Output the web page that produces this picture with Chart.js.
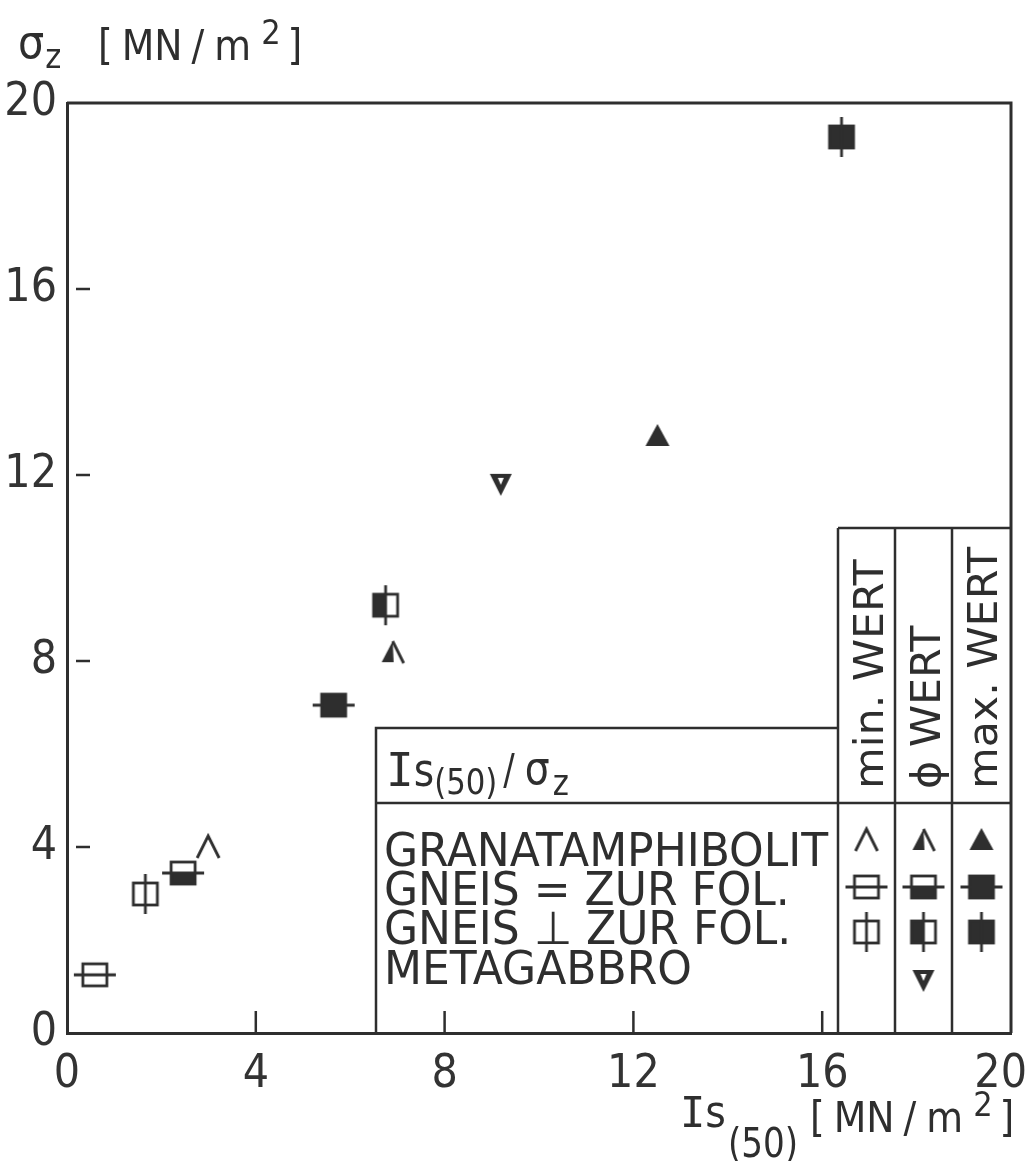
<!DOCTYPE html>
<html>
<head>
<meta charset="utf-8">
<script src="https://cdn.jsdelivr.net/npm/chart.js@4.4.1/dist/chart.umd.min.js"></script>
<style>
  body { margin: 0; background: #fff; }
  #wrap { width: 1029px; height: 1161px; }
</style>
</head>
<body>
<div id="wrap"><canvas id="chart" width="1029" height="1161"></canvas></div>
<script>
// values: [min, mean, max] per rock type
const granatX = [2.99, 6.90, 12.51];
const granatY = [4.00, 8.19, 12.84];
const gneisParX = [0.59, 2.46, 5.65];
const gneisParY = [1.25, 3.44, 7.05];
const gneisPerpX = [1.66, 6.75, 16.41];
const gneisPerpY = [2.99, 9.20, 19.27];
const gabbroX = [9.19];
const gabbroY = [11.81];

const rockNames = ['GRANATAMPHIBOLIT', 'GNEIS = ZUR FOL.', 'GNEIS \u22A5 ZUR FOL.', 'METAGABBRO'];
const statNames = ['min. WERT', '\u03D5 WERT', 'max. WERT'];
const axisTicks = [0, 4, 8, 12, 16, 20];

const FONT = '"Liberation Sans Narrow", "DejaVu Sans Condensed", "Liberation Sans", sans-serif';
const MONO = '"DejaVu Sans Mono", monospace';
const INK = '#2e2e2e';

// marker pictures used as point styles
function makeMarker(draw) {
    const c = document.createElement('canvas');
    c.width = 50; c.height = 50;
    const g = c.getContext('2d');
    g.translate(25, 25);
    g.strokeStyle = INK;
    g.fillStyle = INK;
    g.lineWidth = 2.8;
    draw(g);
    return c;
}

const caretOpen = makeMarker(g => {
    g.beginPath(); g.moveTo(-11, 11); g.lineTo(0, -11); g.lineTo(11, 11); g.stroke();
});
const caretHalf = makeMarker(g => {
    g.beginPath(); g.moveTo(0, -11); g.lineTo(-11, 10); g.lineTo(1, 10); g.closePath(); g.fill();
    g.beginPath(); g.moveTo(0, -11); g.lineTo(11, 11); g.stroke();
});
const triFull = makeMarker(g => {
    g.beginPath(); g.moveTo(0, -12); g.lineTo(-12, 10); g.lineTo(12, 10); g.closePath(); g.fill();
});
const triDown = makeMarker(g => {
    g.beginPath(); g.moveTo(-11, -10); g.lineTo(11, -10); g.lineTo(0, 12); g.closePath(); g.fill();
    g.fillStyle = '#fff';
    g.beginPath(); g.moveTo(-3, -6); g.lineTo(3, -6); g.lineTo(0, 1); g.closePath(); g.fill();
});
function squareH(fill) {
    return makeMarker(g => {
        if (fill === 1) g.fillRect(-12, 0, 24, 11);
        if (fill === 2) g.fillRect(-12, -11, 24, 22);
        g.strokeRect(-12, -11, 24, 22);
        g.beginPath(); g.moveTo(-21, 0); g.lineTo(21, 0); g.stroke();
    });
}
function squareV(fill) {
    return makeMarker(g => {
        if (fill === 1) g.fillRect(-12, -11, 12, 22);
        if (fill === 2) g.fillRect(-12, -11, 24, 22);
        g.strokeRect(-12, -11, 24, 22);
        g.beginPath(); g.moveTo(0, -20); g.lineTo(0, 20); g.stroke();
    });
}

const markers = [
    [caretOpen, caretHalf, triFull],
    [squareH(0), squareH(1), squareH(2)],
    [squareV(0), squareV(1), squareV(2)],
    [null, triDown, null]
];

function toPoints(xs, ys) {
    return xs.map((x, i) => ({ x: x, y: ys[i] }));
}

function text(ctx, str, x, y, size, sx, family) {
    ctx.save();
    ctx.font = size + 'px ' + (family || FONT);
    ctx.translate(x, y);
    ctx.scale(sx || 1, 1);
    ctx.fillText(str, 0, 0);
    const w = ctx.measureText(str).width * (sx || 1);
    ctx.restore();
    return w;
}

// "[ MN / m²]" chained piece by piece
function unitText(ctx, x, y) {
    x += text(ctx, '[', x, y, 42) + 9;
    x += text(ctx, 'MN', x, y, 42) + 9;
    x += text(ctx, '/', x, y, 42) + 10;
    x += text(ctx, 'm', x, y, 42) + 10;
    x += text(ctx, '2', x, y - 16, 34) + 7;
    text(ctx, ']', x, y, 42);
}

const framePlugin = {
    id: 'frame',
    afterDraw(chart) {
        const ctx = chart.ctx;
        const a = chart.chartArea;
        const xs = chart.scales.x, ys = chart.scales.y;
        ctx.save();
        ctx.strokeStyle = INK;
        ctx.fillStyle = INK;
        ctx.lineWidth = 3;
        ctx.beginPath();
        ctx.moveTo(a.left, a.top); ctx.lineTo(a.right, a.top); ctx.lineTo(a.right, a.bottom);
        ctx.stroke();

        // inward ticks
        ctx.lineWidth = 2.5;
        axisTicks.slice(1, -1).forEach(v => {
            const py = ys.getPixelForValue(v);
            ctx.beginPath(); ctx.moveTo(a.left + 9, py); ctx.lineTo(a.left + 23, py); ctx.stroke();
            const px = xs.getPixelForValue(v);
            ctx.beginPath(); ctx.moveTo(px, a.bottom); ctx.lineTo(px, a.bottom - 22); ctx.stroke();
        });

        // legend table
        const L = 376, T = 728, D = 803;
        const cols = [838, 895, 952, a.right];
        const headTop = 528;
        ctx.lineWidth = 2.5;
        ctx.beginPath();
        ctx.moveTo(L, a.bottom); ctx.lineTo(L, T); ctx.lineTo(cols[0], T);
        ctx.moveTo(L, D); ctx.lineTo(a.right, D);
        ctx.moveTo(cols[0], headTop); ctx.lineTo(a.right, headTop);
        cols.slice(0, 3).forEach(cx => { ctx.moveTo(cx, headTop); ctx.lineTo(cx, a.bottom); });
        ctx.stroke();

        ctx.textBaseline = 'alphabetic';
        ctx.textAlign = 'left';
        // header Is(50) / sigma z
        let x = 386;
        x += text(ctx, 'I', x, 786, 46, 1, MONO);
        x += text(ctx, 's', x, 786, 46, 0.95);
        x += text(ctx, '(50)', x, 794, 36, 0.95);
        x += 6;
        x += text(ctx, '/', x, 784, 42, 0.9);
        x += 10;
        x += text(ctx, '\u03C3', x, 784, 46, 0.95);
        text(ctx, 'z', x + 3, 795, 36, 0.95);

        // rock names
        ctx.font = '46px ' + FONT;
        const sx = 444 / ctx.measureText(rockNames[0]).width;
        const rowBase = [866, 905, 944, 984];
        const rowMid = [840, 887, 932, 980];
        rockNames.forEach((n, i) => text(ctx, n, 384, rowBase[i], 46, sx));

        // rotated column headers
        ctx.font = '40px ' + FONT;
        const hsx = 242 / ctx.measureText(statNames[2]).width;
        const headBase = [883, 940, 997];
        statNames.forEach((n, i) => {
            ctx.save();
            ctx.translate(headBase[i], 789);
            ctx.rotate(-Math.PI / 2);
            text(ctx, n, 0, 0, 40, hsx);
            ctx.restore();
        });

        // legend symbols
        markers.forEach((row, r) => {
            row.forEach((m, c) => {
                if (!m) return;
                const cx = (cols[c] + cols[c + 1]) / 2;
                ctx.drawImage(m, cx - 25, rowMid[r] - 25);
            });
        });

        // axis titles
        let tx = 18;
        tx += text(ctx, '\u03C3', tx, 58, 46, 1);
        text(ctx, 'z', tx + 1, 68, 34, 1);
        unitText(ctx, 98, 60);

        tx = 680;
        tx += text(ctx, 'I', tx, 1127, 42, 1, MONO);
        tx += text(ctx, 's', tx, 1127, 44, 1) + 2;
        text(ctx, '(50)', tx, 1157, 40, 0.95);
        unitText(ctx, 810, 1132);
        ctx.restore();
    }
};

new Chart(document.getElementById('chart'), {
    type: 'scatter',
    data: {
        datasets: [
            { data: toPoints(granatX, granatY), pointStyle: markers[0] },
            { data: toPoints(gneisParX, gneisParY), pointStyle: markers[1] },
            { data: toPoints(gneisPerpX, gneisPerpY), pointStyle: markers[2] },
            { data: toPoints(gabbroX, gabbroY), pointStyle: [markers[3][1]] }
        ]
    },
    options: {
        responsive: false,
        animation: false,
        events: [],
        layout: { autoPadding: false, padding: { top: 103, right: 18, left: 0, bottom: 0 } },
        plugins: { legend: { display: false }, tooltip: { enabled: false } },
        scales: {
            x: {
                type: 'linear', min: 0, max: 20,
                afterFit: s => { s.height = 128; s.paddingLeft = 0; s.paddingRight = 0; },
                afterBuildTicks: s => { s.ticks = axisTicks.map(v => ({ value: v })); },
                grid: { display: false, drawTicks: false },
                border: { display: true, color: INK, width: 3 },
                ticks: {
                    color: '#333', padding: 14, maxRotation: 0,
                    font: { family: FONT, size: 46 },
                    // last label sits at the page edge, pad it so it stays visible
                    callback: v => v === 20 ? '20\u2002' : String(v)
                }
            },
            y: {
                type: 'linear', min: 0, max: 20,
                afterFit: s => { s.width = 67; s.paddingTop = 0; s.paddingBottom = 0; },
                afterBuildTicks: s => { s.ticks = axisTicks.map(v => ({ value: v })); },
                grid: { display: false, drawTicks: false },
                border: { display: true, color: INK, width: 3 },
                ticks: { color: '#333', padding: 10, font: { family: FONT, size: 46 } }
            }
        }
    },
    plugins: [framePlugin]
});
</script>
</body>
</html>
